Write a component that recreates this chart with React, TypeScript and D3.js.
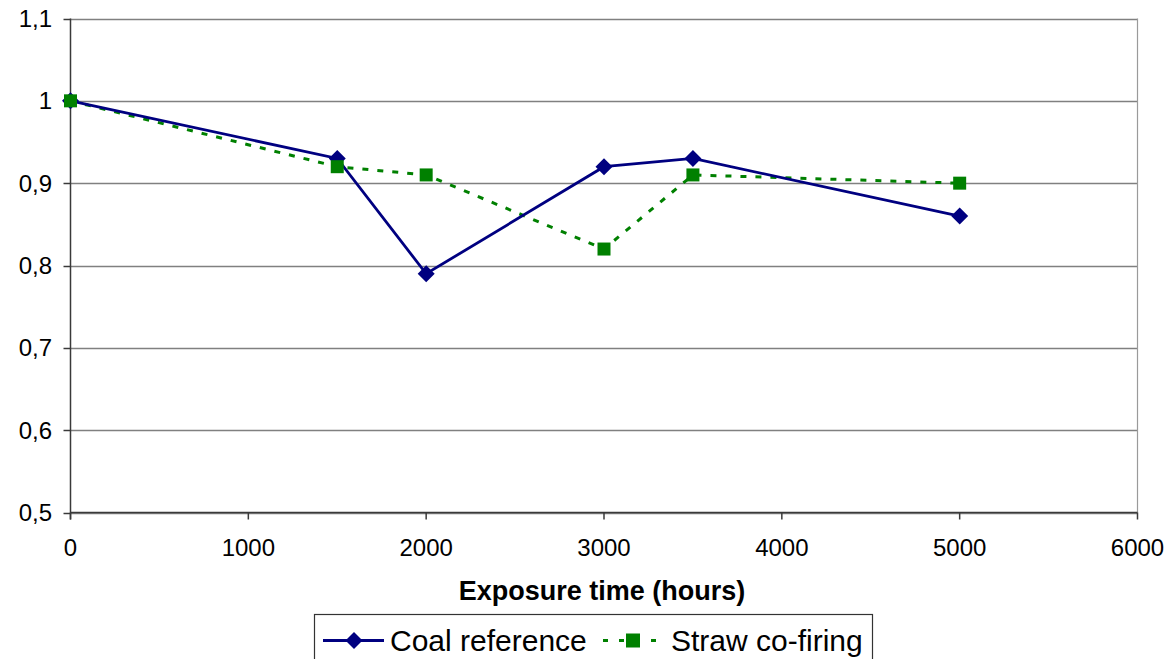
import React from "react";
import * as d3 from "d3";

// Exposure time (hours) and relative values for each series
const hours = [0, 1500, 2000, 3000, 3500, 5000];
const coalReference = [1.0, 0.93, 0.79, 0.92, 0.93, 0.86];
const strawCoFiring = [1.0, 0.92, 0.91, 0.82, 0.91, 0.9];

const xTicks = [0, 1000, 2000, 3000, 4000, 5000, 6000];
const yTicks = [0.5, 0.6, 0.7, 0.8, 0.9, 1.0, 1.1];

const seriesNames = ["Coal reference", "Straw co-firing"];

const W = 1168;
const H = 659;
const plot = { left: 70.5, right: 1137.5, top: 18.5, bottom: 512.5 };
const FONT = "'Liberation Sans', Arial, sans-serif";
const NAVY = "#000080";
const GREEN = "#008000";

const fmt = (v: number) => {
  if (Math.abs(v - Math.round(v)) < 1e-9) return String(Math.round(v));
  return v.toFixed(1).replace(".", ",");
};

function Diamond({ cx, cy, r }: { cx: number; cy: number; r: number }) {
  return (
    <path
      d={`M${cx},${cy - r}L${cx + r},${cy}L${cx},${cy + r}L${cx - r},${cy}Z`}
      fill={NAVY}
    />
  );
}

function Square({ cx, cy, s }: { cx: number; cy: number; s: number }) {
  return <rect x={cx - s / 2} y={cy - s / 2} width={s} height={s} fill={GREEN} />;
}

export default function App() {
  const x = d3.scaleLinear().domain([0, 6000]).range([plot.left, plot.right]);
  const y = d3.scaleLinear().domain([0.5, 1.1]).range([plot.bottom, plot.top]);

  const line = d3
    .line<number>()
    .x((_, i) => x(hours[i]))
    .y((d) => y(d));

  const coalPath = line(coalReference) || "";
  const strawPath = line(strawCoFiring) || "";

  return (
    <svg
      width={W}
      height={H}
      style={{ position: "absolute", left: 0, top: 0, background: "#fff" }}
      fontFamily={FONT}
    >
      <rect x={0} y={0} width={W} height={H} fill="#fff" />

      {/* horizontal gridlines */}
      {yTicks.map((t) => (
        <line
          key={`g${t}`}
          x1={plot.left}
          x2={plot.right}
          y1={Math.round(y(t)) + 0.5}
          y2={Math.round(y(t)) + 0.5}
          stroke="#808080"
          strokeWidth={1.5}
        />
      ))}

      {/* right border of the plot area */}
      <line
        x1={plot.right}
        x2={plot.right}
        y1={plot.top}
        y2={plot.bottom}
        stroke="#9a9a9a"
        strokeWidth={1.2}
      />

      {/* y axis */}
      <line
        x1={plot.left}
        x2={plot.left}
        y1={plot.top}
        y2={plot.bottom + 7}
        stroke="#3a3a3a"
        strokeWidth={1.5}
      />
      {yTicks.map((t) => (
        <g key={`y${t}`}>
          <line
            x1={plot.left - 7}
            x2={plot.left}
            y1={Math.round(y(t)) + 0.5}
            y2={Math.round(y(t)) + 0.5}
            stroke="#3a3a3a"
            strokeWidth={1.5}
          />
          <text
            x={52}
            y={y(t)}
            textAnchor="end"
            dominantBaseline="central"
            fontSize={24}
            fill="#000"
          >
            {fmt(t)}
          </text>
        </g>
      ))}

      {/* x axis */}
      <line
        x1={plot.left}
        x2={plot.right}
        y1={plot.bottom}
        y2={plot.bottom}
        stroke="#3a3a3a"
        strokeWidth={1.5}
      />
      {xTicks.map((t) => (
        <g key={`x${t}`}>
          <line
            x1={x(t)}
            x2={x(t)}
            y1={plot.bottom}
            y2={plot.bottom + 7}
            stroke="#3a3a3a"
            strokeWidth={1.5}
          />
          <text x={x(t)} y={556} textAnchor="middle" fontSize={24} fill="#000">
            {t}
          </text>
        </g>
      ))}

      {/* axis title */}
      <text
        x={(plot.left + plot.right) / 2 - 2}
        y={600}
        textAnchor="middle"
        fontSize={27}
        fontWeight="bold"
        fill="#000"
      >
        Exposure time (hours)
      </text>

      {/* series lines */}
      <path d={strawPath} fill="none" stroke={GREEN} strokeWidth={3} strokeDasharray="6 9" />
      <path d={coalPath} fill="none" stroke={NAVY} strokeWidth={2.8} />

      {/* markers */}
      {coalReference.map((v, i) => (
        <Diamond key={`c${i}`} cx={x(hours[i])} cy={y(v)} r={8.5} />
      ))}
      {strawCoFiring.map((v, i) => (
        <Square key={`s${i}`} cx={x(hours[i])} cy={y(v)} s={13} />
      ))}

      {/* legend */}
      <rect x={314.5} y={614.5} width={558} height={70} fill="#fff" stroke="#333" strokeWidth={1.2} />
      <line x1={323} x2={384} y1={640.5} y2={640.5} stroke={NAVY} strokeWidth={2.8} />
      <Diamond cx={354} cy={640.5} r={8.5} />
      <text x={390} y={651} fontSize={30} fill="#000">
        {seriesNames[0]}
      </text>
      <line
        x1={603}
        x2={660}
        y1={640.5}
        y2={640.5}
        stroke={GREEN}
        strokeWidth={3}
        strokeDasharray="5 11"
      />
      <Square cx={633} cy={640.5} s={14} />
      <text x={671} y={651} fontSize={30} fill="#000">
        {seriesNames[1]}
      </text>
    </svg>
  );
}
